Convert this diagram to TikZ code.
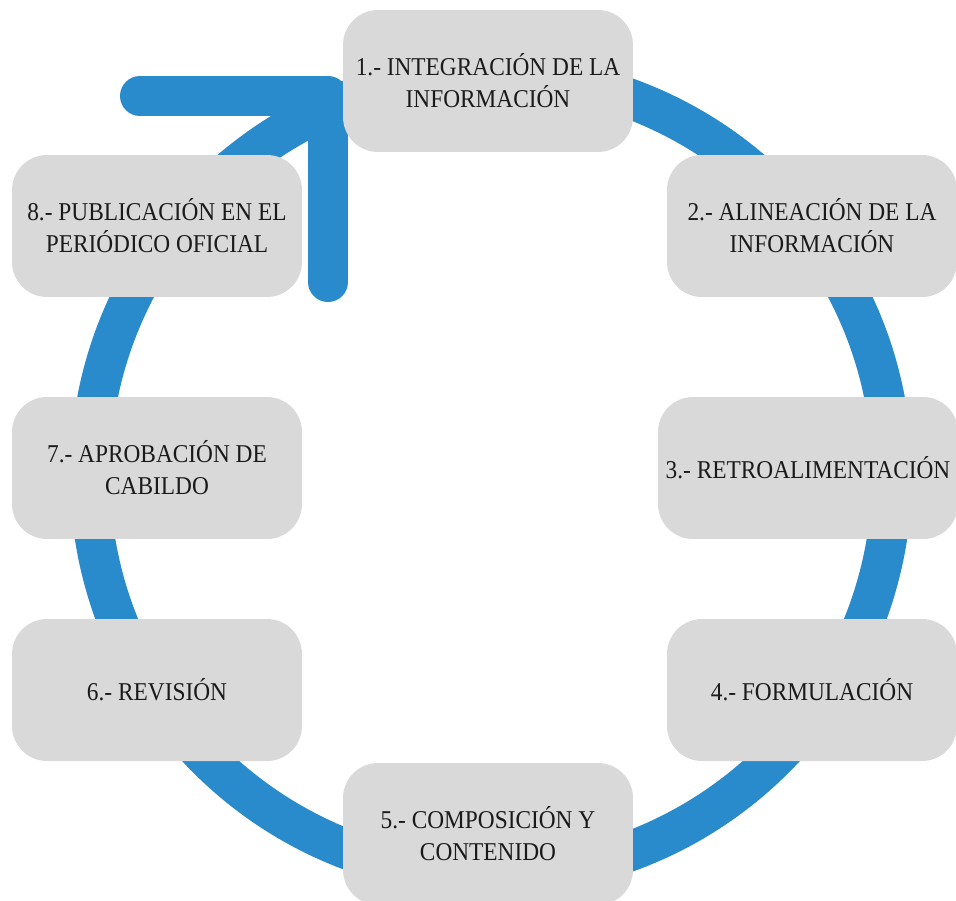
\documentclass[tikz,border=0pt]{standalone}
\usepackage{fontspec}
\setmainfont[FakeStretch=0.91]{Liberation Serif}
\definecolor{azulciclo}{RGB}{41,138,204}
\definecolor{grisetapa}{RGB}{217,217,217}
\definecolor{textoetapa}{RGB}{26,26,26}
\begin{document}
\begin{tikzpicture}[x=0.02cm, y=-0.02cm,
  etapa/.style={fill=grisetapa, rounded corners=0.7cm, minimum width=5.8cm, minimum height=2.84cm, inner sep=0pt, align=center, text=textoetapa, font=\fontsize{14.6}{18.2}\selectfont},
  anillo/.style={draw=azulciclo, line width=0.8cm}]
\useasboundingbox (0,0) rectangle (956,900);
\coordinate (centro) at (491,475);
\draw[anillo] (centro) circle[radius=401];
\coordinate (brazoI) at (140,96);
\coordinate (punta) at (328,96);
\coordinate (brazoA) at (328,282);
\draw[anillo, line cap=round, line join=round] (brazoI) -- (punta) -- (brazoA);
\node[etapa] (etapa1) at (488,81) {1.- INTEGRACIÓN DE LA\\INFORMACIÓN};
\node[etapa] (etapa2) at (812,226) {2.- ALINEACIÓN DE LA\\INFORMACIÓN};
\node[etapa, minimum width=6cm] (etapa3) at (808,468) {3.- RETROALIMENTACIÓN};
\node[etapa] (etapa4) at (812,690) {4.- FORMULACIÓN};
\node[etapa] (etapa5) at (488,834) {5.- COMPOSICIÓN Y\\CONTENIDO};
\node[etapa] (etapa6) at (157,690) {6.- REVISIÓN};
\node[etapa] (etapa7) at (157,468) {7.- APROBACIÓN DE\\CABILDO};
\node[etapa] (etapa8) at (157,226) {8.- PUBLICACIÓN EN EL\\PERIÓDICO OFICIAL};
\end{tikzpicture}
\end{document}
